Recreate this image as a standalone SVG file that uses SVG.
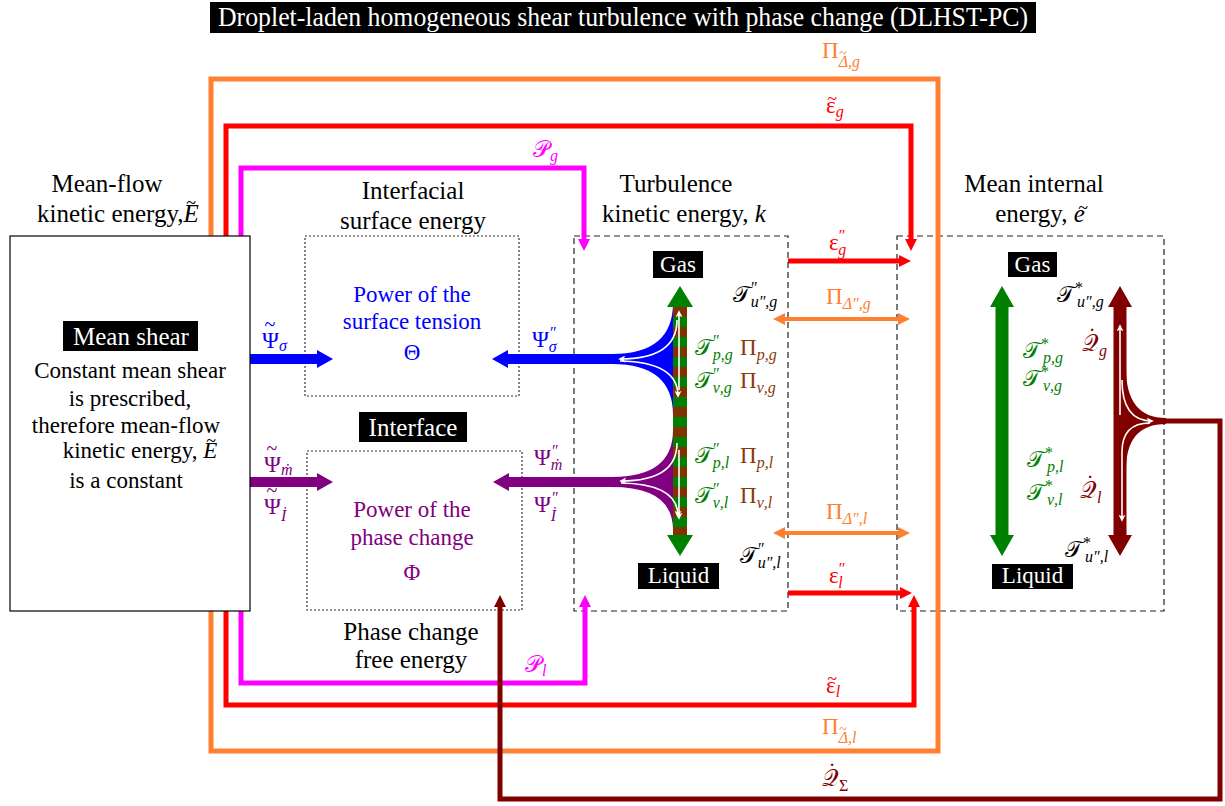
<svg xmlns="http://www.w3.org/2000/svg" width="1225" height="806" viewBox="0 0 1225 806" font-family="'Liberation Serif', 'Times New Roman', Tinos, 'DejaVu Serif', serif">
<style>
text, tspan {font-family: "Liberation Serif", "Times New Roman", Tinos, "Nimbus Roman", "DejaVu Serif", serif;}
.t{font-size:25px;fill:#000;text-anchor:middle}
.b{font-size:23px;text-anchor:middle}
.m{font-size:23px}
.s{font-size:16px}
.it{font-style:italic}
.w{fill:#fff}
.til{text-anchor:middle}
.dot{fill:none;stroke:#333;stroke-width:1.2;stroke-dasharray:2 2}
.dash{fill:none;stroke:#222;stroke-width:1.2;stroke-dasharray:6 4}
.ln{fill:none;stroke-width:5}
.wl{fill:none;stroke:#fff;stroke-width:1.6}
.blue{fill:#0000ff}.pur{fill:#800080}.grn{fill:#008000}.brn{fill:#8a3a0a}.red{fill:#ff0000}.org{fill:#ff8030}.mag{fill:#ff00ff}.drd{fill:#800000}
</style>
<defs>
<marker id="hr" viewBox="0 0 12 12" refX="0" refY="6" markerWidth="12" markerHeight="12" markerUnits="userSpaceOnUse" orient="auto"><path d="M0,0 L12,6 L0,12 Z" fill="#ff0000"/></marker>
<marker id="hm" viewBox="0 0 12 12" refX="0" refY="6" markerWidth="12" markerHeight="12" markerUnits="userSpaceOnUse" orient="auto"><path d="M0,0 L12,6 L0,12 Z" fill="#ff00ff"/></marker>
<marker id="hd" viewBox="0 0 12 12" refX="0" refY="6" markerWidth="12" markerHeight="12" markerUnits="userSpaceOnUse" orient="auto"><path d="M0,0 L12,6 L0,12 Z" fill="#800000"/></marker>
<marker id="ho" viewBox="0 0 12 12" refX="0" refY="6" markerWidth="12" markerHeight="12" markerUnits="userSpaceOnUse" orient="auto-start-reverse"><path d="M0,0 L12,6 L0,12 Z" fill="#ff8030"/></marker>
<marker id="hw" viewBox="0 0 8 8" refX="6" refY="4" markerWidth="7" markerHeight="7" markerUnits="userSpaceOnUse" orient="auto-start-reverse"><path d="M0,0 L8,4 L0,8 L2,4 Z" fill="#ffffff"/></marker>
<pattern id="stripe" x="673" y="307" width="14" height="20" patternUnits="userSpaceOnUse"><rect width="14" height="10" fill="#7f3300"/><rect y="10" width="14" height="10" fill="#008000"/></pattern>
</defs>
<rect width="1225" height="806" fill="#fff"/>

<g id="title">
<rect x="210" y="2" width="826" height="31" fill="#000"/>
<text x="623" y="26" font-size="27" fill="#fff" text-anchor="middle" textLength="810" lengthAdjust="spacingAndGlyphs">Droplet-laden homogeneous shear turbulence with phase change (DLHST-PC)</text>
</g>

<g id="interfacial-box">
<rect class="dot" x="305" y="236" width="214" height="160"/>
<text class="t" x="413" y="199">Interfacial</text>
<text class="t" x="413" y="229">surface energy</text>
<text class="b blue" x="412" y="302">Power of the</text>
<text class="b blue" x="412" y="329">surface tension</text>
<text class="b blue" x="412" y="360">Θ</text>
</g>

<g id="interface-label">
<rect x="359" y="412" width="108" height="30" fill="#000"/>
<text class="t w" x="413" y="436">Interface</text>
</g>

<g id="phase-box">
<rect class="dot" x="307" y="451" width="215" height="159"/>
<text class="b pur" x="412" y="517">Power of the</text>
<text class="b pur" x="412" y="545">phase change</text>
<text class="b pur" x="412" y="580">Φ</text>
<text class="t" x="411" y="640">Phase change</text>
<text class="t" x="411" y="668">free energy</text>
</g>

<g id="turbulence-box">
<rect class="dash" x="574" y="236" width="214" height="375"/>
<text class="t" x="676" y="192">Turbulence</text>
<text class="t" x="684" y="222">kinetic energy, <tspan class="it">k</tspan></text>
</g>

<g id="internal-box">
<rect class="dash" x="897" y="236" width="267" height="375"/>
<text class="t" x="1034" y="192">Mean internal</text>
<text class="t" x="1040" y="222">energy, <tspan class="it">e</tspan></text>
<text class="til" font-size="18" x="1083" y="214">~</text>
</g>

<g id="connectors">
<path class="ln" stroke="#ff8030" d="M211,236 V79 H938 V751 H211 V611"/>
<path class="ln" stroke="#ff0000" d="M226,236 V126 H911 V239" marker-end="url(#hr)"/>
<path class="ln" stroke="#ff0000" d="M226,611 V705 H914 V607" marker-end="url(#hr)"/>
<path class="ln" stroke="#ff00ff" d="M241,236 V168 H584 V239" marker-end="url(#hm)"/>
<path class="ln" stroke="#ff00ff" d="M241,611 V683 H585 V607" marker-end="url(#hm)"/>
<path class="ln" stroke="#800000" d="M1160,421 H1220 V799 H500 V607" marker-end="url(#hd)"/>
<path class="ln" stroke="#ff0000" d="M788,261 H899" marker-end="url(#hr)"/>
<path class="ln" stroke="#ff0000" d="M788,593 H900" marker-end="url(#hr)"/>
<path fill="none" stroke="#ff8030" stroke-width="4" d="M785,319 H898" marker-start="url(#ho)" marker-end="url(#ho)"/>
<path fill="none" stroke="#ff8030" stroke-width="4" d="M785,533 H898" marker-start="url(#ho)" marker-end="url(#ho)"/>
<path fill="#0000ff" d="M250,354 H317 V350 L333,359 L317,368 V364 H250 Z"/>
<path fill="#800080" d="M250,477 H317 V473 L333,482 L317,491 V487 H250 Z"/>
</g>

<g id="mean-shear">
<rect x="10" y="236" width="240" height="375" fill="#fff" stroke="#000" stroke-width="1.2"/>
<rect x="63" y="321" width="135" height="30" fill="#000"/>
<text class="t w" x="131" y="345">Mean shear</text>
<text class="b" x="130" y="378">Constant mean shear</text>
<text class="b" x="130" y="406">is prescribed,</text>
<text class="b" x="126" y="433">therefore mean-flow</text>
<text class="b" x="140" y="458">kinetic energy, <tspan class="it">E</tspan></text>
<text class="til" font-size="18" x="211" y="447">~</text>
<text class="b" x="126" y="488">is a constant</text>
<text class="t" x="107" y="192">Mean-flow</text>
<text class="t" x="118" y="222">kinetic energy,<tspan class="it">E</tspan></text>
<text class="til" font-size="18" x="191" y="209">~</text>
</g>

<g id="turbulence-flows">
<path fill="#0000ff" d="M673,303 Q673,354 612,354 L508,354 L508,350 L492,359 L508,368 L508,364 L612,364 Q673,364 673,415 Z"/>
<path fill="#800080" d="M673,430 Q673,477 612,477 L509,477 L509,473 L493,482 L509,491 L509,487 L612,487 Q673,487 673,530 Z"/>
<rect x="673" y="307" width="14" height="228" fill="url(#stripe)"/>
<path fill="#008000" d="M667,307 L680,286 L693,307 Z M667,535 L680,556 L693,535 Z"/>
<path class="wl" d="M679,390 V312" marker-end="url(#hw)"/>
<path class="wl" d="M679,450 V518" marker-end="url(#hw)"/>
<path class="wl" d="M677,320 Q677,359 620,359" marker-end="url(#hw)"/>
<path class="wl" d="M620,361 Q678,362 678,396" marker-end="url(#hw)"/>
<path class="wl" d="M677,443 Q677,481 621,481" marker-end="url(#hw)"/>
<path class="wl" d="M621,483 Q678,484 678,516" marker-end="url(#hw)"/>
<rect x="653" y="251" width="50" height="27" fill="#000"/>
<text class="b w" x="678" y="272">Gas</text>
<rect x="638" y="563" width="81" height="26" fill="#000"/>
<text class="b w" x="678.5" y="583">Liquid</text>
</g>

<g id="internal-flows">
<rect x="995.5" y="307" width="13" height="228" fill="#008000"/>
<path fill="#008000" d="M990,307 L1002,286 L1014,307 Z M990,535 L1002,556 L1014,535 Z"/>
<path fill="#800000" d="M1126,368 Q1126,418 1166,418 L1166,424 Q1126,424 1126,470 Z"/>
<rect x="1113.5" y="307" width="13" height="228" fill="#800000"/>
<path fill="#800000" d="M1108,307 L1120,286 L1132,307 Z M1108,535 L1120,556 L1132,535 Z"/>
<path class="wl" d="M1120,415 V326" marker-end="url(#hw)"/>
<path class="wl" d="M1122,380 Q1122,421 1152,421" marker-end="url(#hw)"/>
<path class="wl" d="M1150,423 Q1122,423 1122,452 V520" marker-end="url(#hw)"/>
<rect x="1008" y="252" width="49" height="25" fill="#000"/>
<text class="b w" x="1032.5" y="272">Gas</text>
<rect x="992" y="564" width="81" height="25" fill="#000"/>
<text class="b w" x="1032.5" y="583">Liquid</text>
</g>

<g id="labels">
<text class="m blue" x="262" y="348">Ψ<tspan class="s it" dy="3">σ</tspan></text>
<text class="til blue" font-size="20" x="270" y="331">~</text>
<text class="m blue" x="532" y="347">Ψ<tspan class="s" dx="1" dy="-9">″</tspan><tspan class="s it" dx="-8" dy="14">σ</tspan></text>
<text class="m pur" x="264" y="472">Ψ<tspan class="s it" dy="3">ṁ</tspan></text>
<text class="til pur" font-size="20" x="272" y="455">~</text>
<text class="m pur" x="264" y="514">Ψ<tspan class="s it" dy="7">İ</tspan></text>
<text class="til pur" font-size="20" x="272" y="497">~</text>
<text class="m pur" x="534" y="465">Ψ<tspan class="s" dx="1" dy="-9">″</tspan><tspan class="s it" dx="-8" dy="14">ṁ</tspan></text>
<text class="m pur" x="534" y="512">Ψ<tspan class="s" dx="1" dy="-9">″</tspan><tspan class="s it" dx="-8" dy="18">İ</tspan></text>

<text class="m" x="733" y="302">&#x1D4AF;<tspan class="s" dy="-9">″</tspan><tspan class="s it" dx="-7" dy="14">u″,g</tspan></text>
<text class="m grn" x="695" y="355">&#x1D4AF;<tspan class="s" dy="-9">″</tspan><tspan class="s it" dx="-7" dy="14">p,g</tspan></text>
<text class="m brn" x="740" y="355">Π<tspan class="s it" dy="5">p,g</tspan></text>
<text class="m grn" x="695" y="388">&#x1D4AF;<tspan class="s" dy="-9">″</tspan><tspan class="s it" dx="-7" dy="14">ν,g</tspan></text>
<text class="m brn" x="740" y="388">Π<tspan class="s it" dy="5">ν,g</tspan></text>
<text class="m grn" x="695" y="463">&#x1D4AF;<tspan class="s" dy="-9">″</tspan><tspan class="s it" dx="-7" dy="14">p,l</tspan></text>
<text class="m brn" x="740" y="463">Π<tspan class="s it" dy="5">p,l</tspan></text>
<text class="m grn" x="695" y="503">&#x1D4AF;<tspan class="s" dy="-9">″</tspan><tspan class="s it" dx="-7" dy="14">ν,l</tspan></text>
<text class="m brn" x="740" y="503">Π<tspan class="s it" dy="5">ν,l</tspan></text>
<text class="m" x="740" y="563">&#x1D4AF;<tspan class="s" dy="-9">″</tspan><tspan class="s it" dx="-7" dy="14">u″,l</tspan></text>

<text class="m org" x="826" y="304">Π<tspan class="s it" dy="5">Δ″,g</tspan></text>
<text class="m org" x="826" y="519">Π<tspan class="s it" dy="5">Δ″,l</tspan></text>
<text class="m red" x="829" y="250">ε<tspan class="s" dy="-9">″</tspan><tspan class="s it" dx="-7" dy="14">g</tspan></text>
<text class="m red" x="829" y="583">ε<tspan class="s" dy="-9">″</tspan><tspan class="s it" dx="-7" dy="14">l</tspan></text>

<text class="m org" x="822" y="58">Π<tspan class="s it" dy="9">Δ,g</tspan></text>
<text class="til org" font-size="14" x="843" y="58">~</text>
<text class="m red" x="826" y="113">ε<tspan class="s it" dy="4">g</tspan></text>
<text class="til red" font-size="18" x="832" y="105">~</text>
<text class="m mag" x="533" y="157">&#x1D4AB;<tspan class="s it" dy="4">g</tspan></text>
<text class="m mag" x="525" y="672">&#x1D4AB;<tspan class="s it" dy="4">l</tspan></text>
<text class="m red" x="826" y="693">ε<tspan class="s it" dy="4">l</tspan></text>
<text class="til red" font-size="18" x="832" y="685">~</text>
<text class="m org" x="822" y="734">Π<tspan class="s it" dy="9">Δ,l</tspan></text>
<text class="til org" font-size="14" x="843" y="734">~</text>
<text class="m drd" x="822" y="786">&#x1D4AC;<tspan class="s" dy="5">Σ</tspan></text>
<text class="til drd" font-size="23" x="832" y="779">˙</text>

<text class="m" x="1057" y="302">&#x1D4AF;<tspan class="s" dy="-9">*</tspan><tspan class="s it" dx="-6" dy="14">u″,g</tspan></text>
<text class="m grn" x="1023" y="358">&#x1D4AF;<tspan class="s" dy="-9">*</tspan><tspan class="s it" dx="-6" dy="14">p,g</tspan></text>
<text class="m grn" x="1023" y="386">&#x1D4AF;<tspan class="s" dy="-9">*</tspan><tspan class="s it" dx="-6" dy="14">ν,g</tspan></text>
<text class="m grn" x="1027" y="467">&#x1D4AF;<tspan class="s" dy="-9">*</tspan><tspan class="s it" dx="-6" dy="14">p,l</tspan></text>
<text class="m grn" x="1027" y="500">&#x1D4AF;<tspan class="s" dy="-9">*</tspan><tspan class="s it" dx="-6" dy="14">ν,l</tspan></text>
<text class="m" x="1065" y="557">&#x1D4AF;<tspan class="s" dy="-9">*</tspan><tspan class="s it" dx="-6" dy="14">u″,l</tspan></text>
<text class="m drd" x="1082" y="351">&#x1D4AC;<tspan class="s it" dy="5">g</tspan></text>
<text class="til drd" font-size="23" x="1092" y="344">˙</text>
<text class="m drd" x="1080" y="498">&#x1D4AC;<tspan class="s it" dy="5">l</tspan></text>
<text class="til drd" font-size="23" x="1090" y="491">˙</text>
</g>
</svg>
